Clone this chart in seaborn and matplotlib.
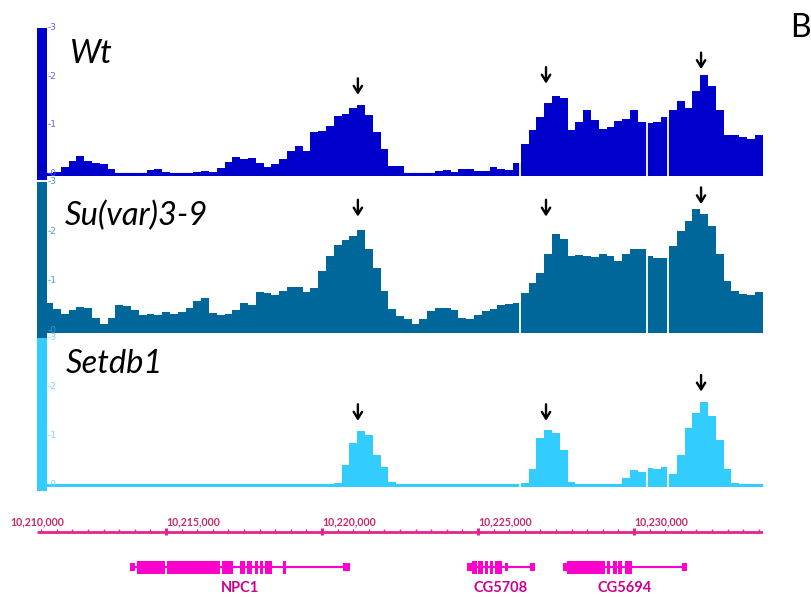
"""Profils ChIP sur la région NPC1 / CG5708 / CG5694 (panneau B)."""

import numpy as np
import pandas as pd
import matplotlib
matplotlib.use('Agg')
import matplotlib.pyplot as plt
import matplotlib.transforms as mtransforms
import seaborn as sns

# Fenêtre génomique et bins du signal
x_start = 10_210_865
x_end = 10_234_135
bin_start = 10_210_875
bin_size = 250

tracks = ['Wt', 'Su(var)3-9', 'Setdb1']
track_colors = ['#0000CD', '#00679B', '#33CCFF']
tick_colors = ['#6060FF', '#3F9BDC', '#6FD6FF']

wt = [0, 0, 0.02, 0.12, 0.25, 0.35, 0.25, 0.2, 0.18, 0.08,
      0, 0, 0, 0, 0.06, 0.08, 0.03, 0, 0, 0,
      0.03, 0.04, 0.03, 0.1, 0.22, 0.33, 0.3, 0.32, 0.2, 0.12,
      0.18, 0.3, 0.45, 0.57, 0.45, 0.85, 0.88, 0.98, 1.18, 1.22,
      1.35, 1.4, 1.2, 0.85, 0.5, 0.15, 0.15, 0.01, 0.01, 0.01,
      0.01, 0.05, 0.06, 0.02, 0.08, 0.09, 0.04, 0.05, 0.12, 0.08,
      0.06, 0.2, 0.6, 0.9, 1.15, 1.45, 1.6, 1.55, 0.9, 1.05,
      1.3, 1.1, 0.92, 0.95, 1.08, 1.12, 1.3, 1.05, 1.03, 1.05,
      1.15, 1.3, 1.5, 1.35, 1.7, 2.02, 1.8, 1.3, 0.78, 0.78,
      0.75, 0.7, 0.78]

suvar = [0.55, 0.55, 0.42, 0.33, 0.4, 0.47, 0.45, 0.25, 0.12, 0.25,
         0.5, 0.48, 0.4, 0.3, 0.32, 0.3, 0.37, 0.33, 0.37, 0.45,
         0.58, 0.65, 0.35, 0.3, 0.32, 0.4, 0.55, 0.5, 0.77, 0.76,
         0.7, 0.8, 0.87, 0.88, 0.78, 0.85, 1.2, 1.5, 1.72, 1.82,
         1.9, 2.02, 1.65, 1.25, 0.8, 0.42, 0.28, 0.22, 0.12, 0.22,
         0.38, 0.45, 0.45, 0.4, 0.25, 0.22, 0.3, 0.38, 0.42, 0.5,
         0.53, 0.55, 0.75, 0.95, 1.15, 1.55, 1.95, 1.85, 1.5, 1.52,
         1.5, 1.48, 1.55, 1.5, 1.4, 1.55, 1.65, 1.65, 1.5, 1.45,
         1.45, 1.7, 2.0, 2.2, 2.45, 2.35, 2.1, 1.55, 1.0, 0.8,
         0.74, 0.7, 0.78]

setdb1 = [0, 0, 0, 0, 0, 0, 0, 0, 0, 0,
          0, 0, 0, 0, 0, 0, 0, 0, 0, 0,
          0, 0, 0, 0, 0, 0, 0, 0, 0, 0,
          0, 0, 0, 0, 0, 0, 0, 0, 0.02, 0.4,
          0.85, 1.1, 1.0, 0.6, 0.35, 0.05, 0, 0, 0, 0,
          0, 0, 0, 0, 0, 0, 0, 0, 0, 0,
          0, 0, 0.02, 0.3, 0.95, 1.12, 1.05, 0.7, 0.05, 0,
          0, 0, 0, 0, 0, 0.12, 0.28, 0.25, 0.32, 0.3,
          0.35, 0.2, 0.6, 1.15, 1.45, 1.68, 1.4, 0.9, 0.3, 0.02,
          0, 0, 0]

signals = [wt, suvar, setdb1]

# Trous sans données (lignes blanches)
gaps = [10_226_350, 10_230_420, 10_231_090]

# Flèches au-dessus des pics
arrow_x = [10_221_150, 10_227_180, 10_232_150]
arrow_tips = [[1.62, 1.85, 2.15], [2.3, 2.3, 2.55], [1.3, 1.3, 1.9]]

# Axe génomique
major_ticks = [10_215_000, 10_220_000, 10_225_000, 10_230_000]
minor_ticks = list(range(10_211_000, 10_234_001, 500))
start_label = '10,210,000'

# Modèles de gènes: (début, fin, épais?)
genes = {
    'NPC1': [(10_213_846, 10_214_006, False), (10_214_071, 10_214_968, True),
             (10_215_032, 10_216_731, True), (10_216_795, 10_217_147, True),
             (10_217_372, 10_217_532, True), (10_217_596, 10_217_756, True),
             (10_217_853, 10_217_949, True), (10_218_013, 10_218_109, True),
             (10_218_173, 10_218_397, True), (10_218_750, 10_218_846, True),
             (10_220_673, 10_220_897, False)],
    'CG5708': [(10_224_647, 10_224_807, False), (10_224_807, 10_224_968, True),
               (10_225_000, 10_225_160, True), (10_225_224, 10_225_320, True),
               (10_225_384, 10_225_480, True), (10_225_545, 10_225_769, True),
               (10_225_865, 10_225_961, False), (10_226_666, 10_226_826, False)],
    'CG5694': [(10_227_724, 10_227_852, False), (10_227_852, 10_229_070, True),
               (10_229_134, 10_229_230, True), (10_229_327, 10_229_455, True),
               (10_229_487, 10_229_615, True), (10_229_711, 10_229_935, True),
               (10_231_538, 10_231_698, False)],
}

sns.set_theme(style='white')
plt.rcParams['font.family'] = ['DejaVu Sans']

W, H = 812, 597
fig = plt.figure(figsize=(W / 100, H / 100), dpi=100)


def px_axes(x0, y0, x1, y1):
    """Crée un axe à partir de coordonnées pixel (origine en haut à gauche)."""
    return fig.add_axes([x0 / W, 1 - y1 / H, (x1 - x0) / W, (y1 - y0) / H])


track_boxes = [(28, 176), (182, 333), (338, 487)]
label_pos = [(0.045, 0.764), (0.038, 0.715), (0.040, 0.765)]
n_bins = len(wt)
centers = np.arange(n_bins) * bin_size + bin_start + bin_size / 2
bin_range = (bin_start, bin_start + n_bins * bin_size)
bar_w = 330  # largeur de la barre d'échelle en pb (~10 px)

for k, (name, vals) in enumerate(zip(tracks, signals)):
    top, bot = track_boxes[k]
    ax = px_axes(37, top, 763, bot)
    col = track_colors[k]
    df = pd.DataFrame({'pos': centers, 'signal': vals})
    sns.histplot(data=df, x='pos', weights='signal', binwidth=bin_size,
                 binrange=bin_range, element='step', fill=True, color=col,
                 alpha=1, linewidth=0, ax=ax)
    ax.axhline(-0.03, color=col, lw=3, zorder=3)
    for g in gaps:
        ax.axvline(g, color='white', lw=1.3, zorder=4)
    ax.axvspan(x_start, x_start + bar_w, ymin=-0.03, ymax=1.0, color=col,
               lw=0, zorder=5, clip_on=False)
    trans = mtransforms.blended_transform_factory(ax.transAxes, ax.transData)
    for v in range(4):
        ax.text(0.0145, v, '-' + str(v), transform=trans, fontsize=6.5,
                color=tick_colors[k], va='center', ha='left', zorder=6)
    ax.text(label_pos[k][0], label_pos[k][1], name, transform=ax.transAxes,
            fontsize=23.5, fontstyle='italic', family=['Lato', 'DejaVu Sans'],
            color='black', va='baseline', ha='left')
    for ax_x, tip in zip(arrow_x, arrow_tips[k]):
        ax.annotate('', xy=(ax_x, tip), xytext=(ax_x, tip + 0.34),
                    arrowprops=dict(arrowstyle='->,head_length=0.4,head_width=0.25',
                                    lw=1.7, color='black', shrinkA=0, shrinkB=0),
                    annotation_clip=False)
    ax.set_xlim(x_start, x_end)
    ax.set_ylim(-0.06, 3)
    ax.set_xlabel('')
    ax.set_ylabel('')
    ax.set_xticks([])
    ax.set_yticks([])
    ax.patch.set_alpha(0)
    for s in ax.spines.values():
        s.set_visible(False)

# Axe des coordonnées et gènes
axg = px_axes(37, 497, 763, 597)
axg.set_xlim(x_start, x_end)
axg.set_ylim(100, 0)
axis_col = '#E5248F'
label_col = '#C42A6A'
gene_col = '#FF00CC'
name_col = '#CC008E'

axg.hlines(34.5, x_start, x_end, color=axis_col, lw=2)
axg.vlines(minor_ticks, 32, 35, color=axis_col, lw=1)
axg.vlines(major_ticks, 31, 38, color=axis_col, lw=2.2)
for t in major_ticks:
    axg.text(t, 30, f'{t:,}', fontsize=7.6, fontweight='bold', color=label_col,
             ha='left', va='bottom', family=['Lato', 'DejaVu Sans'])
axg.text(x_start, 30, start_label, fontsize=7.6, fontweight='bold', color=label_col,
         ha='center', va='bottom', family=['Lato', 'DejaVu Sans'])

gene_y = 70
for gname, exons in genes.items():
    g0 = exons[0][0]
    g1 = exons[-1][1]
    axg.hlines(gene_y, g0, g1, color=gene_col, lw=1.5)
    for s, e, thick in exons:
        h = 13 if thick else 8
        axg.broken_barh([(s, e - s)], (gene_y - h / 2, h), color=gene_col, lw=0)
    axg.text((g0 + g1) / 2, 91, gname, fontsize=10.5, fontweight='bold', color=name_col,
             ha='center', va='center', family=['Lato', 'DejaVu Sans'])

axg.axis('off')

fig.text(800 / W, 1 - 28 / H, 'B', fontsize=23, color='black', ha='center', va='center',
         family=['Lato', 'DejaVu Sans'])

fig.savefig('out.png', dpi=100)
